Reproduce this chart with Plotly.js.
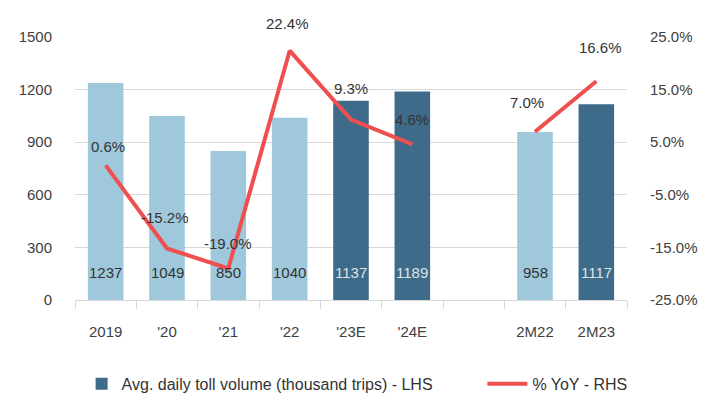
<!DOCTYPE html>
<html>
<head>
<meta charset="utf-8">
<script src="https://cdn.plot.ly/plotly-3.0.1.min.js"></script>
<style>
  html, body { margin: 0; padding: 0; background: #ffffff; }
  #chart { width: 707px; height: 405px; }
</style>
</head>
<body>
<div id="chart"></div>
<script>
// ---- data ----
const categories = ['2019', "'20", "'21", "'22", "'23E", "'24E", '', '2M22', '2M23'];
const tollVolume = [1237, 1049, 850, 1040, 1137, 1189, null, 958, 1117];
const isForecast = [false, false, false, false, true, true, false, false, true];
const yoyPct = [0.6, -15.2, -19.0, 22.4, 9.3, 4.6, null, 7.0, 16.6];
const leftTicks = [0, 300, 600, 900, 1200, 1500];
const rightTicks = [-25, -15, -5, 5, 15, 25];

// ---- styles ----
const lightBlue = '#9fc8dd';
const darkBlue = '#3d6b89';
const red = '#ef4f4f';
const textCol = '#404040';
const gridCol = '#d9d9d9';
const fontFam = '"Liberation Sans", Arial, sans-serif';
const labelShiftX = [2, -2, 0, -2, 0, 0, 0, -8, 4];
const labelShiftY = [19, 31, 25, 27, 31, 25, 0, 29, 34];

const xPos = categories.map((c, i) => i);
const actualVals = tollVolume.map((v, i) => isForecast[i] ? null : v);
const forecastVals = tollVolume.map((v, i) => isForecast[i] ? v : null);

const traces = [
  {
    type: 'bar', x: xPos, y: actualVals, name: 'actual',
    marker: { color: lightBlue }, showlegend: false, hoverinfo: 'skip'
  },
  {
    type: 'bar', x: xPos, y: forecastVals,
    name: 'Avg. daily toll volume (thousand trips) - LHS',
    marker: { color: darkBlue }, hoverinfo: 'skip', legend: 'legend'
  },
  {
    type: 'scatter', mode: 'lines', x: xPos, y: yoyPct, yaxis: 'y2',
    name: '% YoY - RHS', line: { color: red, width: 4 },
    connectgaps: false, hoverinfo: 'skip', legend: 'legend2'
  }
];

const annotations = [];
tollVolume.forEach((v, i) => {
  if (v === null) return;
  annotations.push({
    x: xPos[i], y: 0, xref: 'x', yref: 'y', yanchor: 'bottom',
    yshift: 17, showarrow: false, text: String(v),
    font: { family: fontFam, size: 15, color: isForecast[i] ? '#dde3e8' : '#333333' }
  });
});
yoyPct.forEach((v, i) => {
  if (v === null) return;
  annotations.push({
    x: xPos[i], y: v, xref: 'x', yref: 'y2', yanchor: 'middle',
    xshift: labelShiftX[i], yshift: labelShiftY[i], showarrow: false,
    text: v.toFixed(1) + '%',
    font: { family: fontFam, size: 15, color: '#333333' }
  });
});

const legendFont = { family: fontFam, size: 16, color: '#333333' };
const layout = {
  width: 707, height: 405,
  margin: { l: 75, r: 80, t: 37, b: 105, autoexpand: false },
  paper_bgcolor: '#ffffff', plot_bgcolor: '#ffffff',
  font: { family: fontFam, size: 15, color: textCol },
  barmode: 'overlay', bargap: 0.42,
  showlegend: true,
  legend: {
    orientation: 'h', xref: 'paper', x: 0.012, xanchor: 'left',
    yref: 'container', y: 0.052, yanchor: 'middle', font: legendFont, itemwidth: 30
  },
  legend2: {
    orientation: 'h', xref: 'paper', x: 0.738, xanchor: 'left',
    yref: 'container', y: 0.052, yanchor: 'middle', font: legendFont, itemwidth: 40
  },
  xaxis: {
    range: [-0.5, 8.5], tickmode: 'array', tickvals: xPos, ticktext: categories,
    showgrid: false, showline: true, linecolor: gridCol, linewidth: 1,
    ticks: '', ticklabelstandoff: 18, zeroline: false, fixedrange: true,
    minor: { tick0: -0.5, dtick: 1, ticks: 'outside', ticklen: 8,
             tickcolor: gridCol, tickwidth: 1, showgrid: false }
  },
  yaxis: {
    range: [0, 1500], tickmode: 'array', tickvals: leftTicks, ticktext: leftTicks.map(String),
    showgrid: true, gridcolor: gridCol, gridwidth: 1, zeroline: false,
    showline: false, ticks: '', ticklabelstandoff: 22, fixedrange: true
  },
  yaxis2: {
    overlaying: 'y', side: 'right', range: [-25, 25], tickmode: 'array',
    tickvals: rightTicks, ticktext: rightTicks.map(t => t.toFixed(1) + '%'),
    showgrid: false, zeroline: false, showline: false, ticks: '',
    ticklabelstandoff: 22, fixedrange: true
  },
  annotations: annotations
};

Plotly.newPlot('chart', traces, layout, { displayModeBar: false, staticPlot: true });
</script>
</body>
</html>
